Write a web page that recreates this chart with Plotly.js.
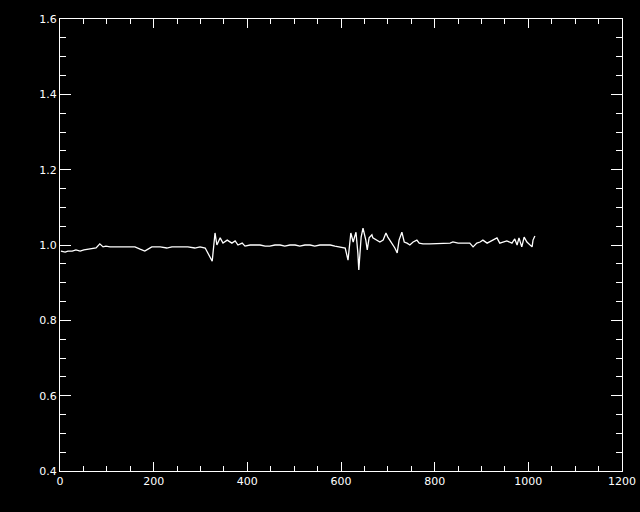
<!DOCTYPE html>
<html>
<head>
<meta charset="utf-8">
<script src="https://cdn.plot.ly/plotly-3.0.1.min.js"></script>
<style>html,body{margin:0;padding:0;background:#000;}#chart{width:640px;height:512px;}</style>
</head>
<body>
<div id="chart"></div>
<script>
const xValues = [2,11,17,26,34,43,51,60,68,77,85,92,98,107,117,128,139,149,160,171,181,188,196,214,228,239,256,273,288,299,310,318,325,331,335,342,348,357,367,374,380,389,395,406,416,427,438,448,459,470,480,491,502,512,523,534,544,555,566,577,587,598,609,615,621,626,632,636,638,643,647,653,656,660,666,668,677,683,690,696,700,709,715,720,724,730,735,741,747,754,762,767,775,790,805,818,833,839,850,860,875,882,890,897,903,912,922,933,939,948,954,965,971,976,980,986,991,997,1001,1008,1010,1014];
const yValues = [0.984,0.981,0.984,0.984,0.987,0.984,0.987,0.989,0.989,0.992,1.003,0.995,0.997,0.995,0.995,0.995,0.997,0.995,0.995,0.989,0.984,0.989,0.995,0.995,0.992,0.995,0.995,0.995,0.992,0.995,0.992,0.973,0.957,1.032,1.000,1.019,1.005,1.013,1.005,1.011,1.000,1.005,0.997,1.000,1.000,1.000,0.997,0.997,1.000,1.000,0.997,1.000,1.000,0.997,1.000,1.000,0.997,1.000,1.000,1.000,0.997,0.995,0.992,0.960,1.032,1.008,1.034,0.979,0.934,1.021,1.045,1.013,0.987,1.019,1.027,1.019,1.013,1.008,1.013,1.032,1.021,1.005,0.992,0.979,1.013,1.034,1.008,1.005,1.000,1.008,1.013,1.005,1.003,1.003,1.003,1.005,1.005,1.008,1.005,1.005,1.005,0.995,1.005,1.008,1.013,1.005,1.011,1.019,1.005,1.008,1.011,1.005,1.016,1.000,1.019,0.995,1.021,1.008,1.003,0.995,1.013,1.024];
const xTickVals = [0,200,400,600,800,1000,1200];
const yTickVals = [0.4,0.6,0.8,1.0,1.2,1.4,1.6];

const axisCommon = {
  showgrid: false, zeroline: false, showline: true, linecolor: '#fff', linewidth: 1,
  mirror: 'allticks', ticks: 'inside', tickcolor: '#fff', tickwidth: 1,
  tickfont: {family: 'DejaVu Sans, sans-serif', size: 11, color: '#fff'}
};

Plotly.newPlot('chart', [{
  x: xValues, y: yValues, type: 'scatter', mode: 'lines',
  line: {color: '#fff', width: 1.3}, hoverinfo: 'skip'
}], {
  width: 640, height: 512,
  paper_bgcolor: '#000', plot_bgcolor: '#000',
  margin: {l: 60, r: 18, t: 19, b: 41},
  showlegend: false,
  xaxis: Object.assign({}, axisCommon, {
    range: [0, 1200], tickmode: 'array', tickvals: xTickVals, ticktext: xTickVals.map(String),
    ticklen: 9,
    minor: {dtick: 50, ticks: 'inside', ticklen: 5, tickcolor: '#fff', showgrid: false}
  }),
  yaxis: Object.assign({}, axisCommon, {
    range: [0.4, 1.6], tickmode: 'array', tickvals: yTickVals, ticktext: yTickVals.map(v => v.toFixed(1)),
    ticklen: 11,
    minor: {dtick: 0.05, ticks: 'inside', ticklen: 6, tickcolor: '#fff', showgrid: false}
  })
}, {staticPlot: true});
</script>
</body>
</html>
